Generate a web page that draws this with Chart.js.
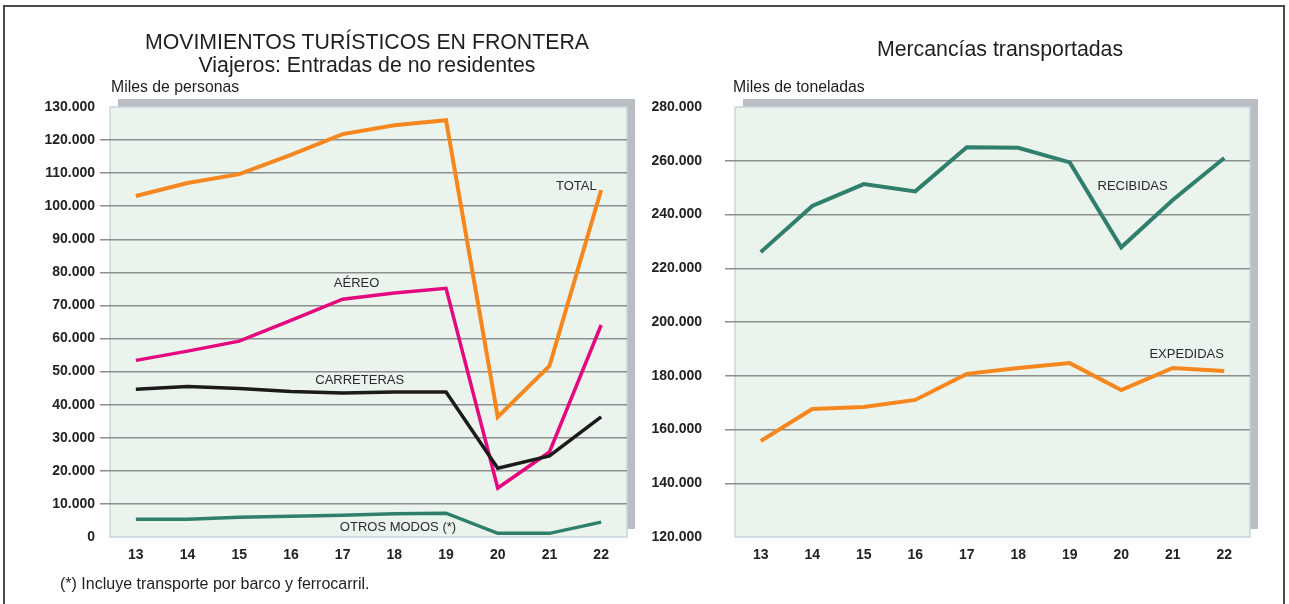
<!DOCTYPE html>
<html>
<head>
<meta charset="utf-8">
<script src="https://cdn.jsdelivr.net/npm/chart.js@4.4.1/dist/chart.umd.min.js"></script>
<style>
  html, body { margin: 0; padding: 0; background: #ffffff; }
  body { width: 1289px; height: 604px; position: relative; overflow: hidden; font-family: "Liberation Sans", Arial, sans-serif; color: #1e1e1e; }
  #frame { position: absolute; left: 3px; top: 5px; width: 1282px; height: 620px; border: 2px solid #4a4a4a; box-sizing: border-box; }
  .t { position: absolute; white-space: nowrap; }
  #c1 { position: absolute; left: 0; top: 0; }
  #c2 { position: absolute; left: 645px; top: 0; }
</style>
</head>
<body>
<div id="frame"></div>
<canvas id="c1" width="645" height="604"></canvas>
<canvas id="c2" width="644" height="604"></canvas>
<div class="t" style="left:0;width:734px;top:30px;text-align:center;font-size:21.3px;line-height:24px;">MOVIMIENTOS TURÍSTICOS EN FRONTERA</div>
<div class="t" style="left:0;width:734px;top:53px;text-align:center;font-size:21.3px;line-height:24px;">Viajeros: Entradas de no residentes</div>
<div class="t" style="left:111px;top:78px;font-size:15.8px;line-height:18px;">Miles de personas</div>
<div class="t" style="left:700px;width:600px;top:37px;text-align:center;font-size:21.3px;line-height:24px;">Mercancías transportadas</div>
<div class="t" style="left:733px;top:78px;font-size:15.8px;line-height:18px;">Miles de toneladas</div>
<div class="t" style="left:60px;top:575px;font-size:16px;line-height:18px;">(*) Incluye transporte por barco y ferrocarril.</div>
<script>
// ---- Data ----
const years = ["13", "14", "15", "16", "17", "18", "19", "20", "21", "22"];
const total      = [103100, 107000, 109700, 115500, 121800, 124500, 126000, 36300, 51700, 104900];
const aereo      = [53400, 56200, 59200, 65500, 71900, 73800, 75200, 14800, 25700, 64100];
const carreteras = [44700, 45500, 44900, 44000, 43500, 43800, 43800, 20800, 24500, 36300];
const otros      = [5400, 5400, 6000, 6300, 6600, 7000, 7200, 1100, 1100, 4500];
const recibidas  = [226000, 243200, 251300, 248600, 265000, 264800, 259400, 227800, 245400, 261000];
const expedidas  = [155700, 167600, 168400, 171000, 180700, 182900, 184700, 174700, 182900, 181800];
const leftTicks  = [0, 10000, 20000, 30000, 40000, 50000, 60000, 70000, 80000, 90000, 100000, 110000, 120000, 130000];
const rightTicks = [120000, 140000, 160000, 180000, 200000, 220000, 240000, 260000, 280000];
// series labels: [text, category position, value]
const leftLabels  = [["TOTAL", 8.52, 105900], ["AÉREO", 4.27, 76600], ["CARRETERAS", 4.33, 47300], ["OTROS MODOS (*)", 5.07, 3000]];
const rightLabels = [["RECIBIDAS", 7.22, 250300], ["EXPEDIDAS", 8.27, 187800]];

const ORANGE = "#f6871f", MAGENTA = "#e5097f", BLACK = "#1b1b1b", GREEN = "#2f7f6c";
const tickFont = { family: "'Liberation Sans', Arial, sans-serif", size: 14, weight: "bold" };

const fmt = v => String(v).replace(/\B(?=(\d{3})+(?!\d))/g, ".");

const panelPlugin = {
  id: "panel",
  beforeDraw(chart) {
    const { ctx, chartArea: a } = chart;
    ctx.save();
    ctx.fillStyle = "#babdc1";
    ctx.fillRect(a.left + 8, a.top - 8, a.right - a.left, a.bottom - a.top);
    ctx.fillStyle = "#eaf4ec";
    ctx.fillRect(a.left, a.top, a.right - a.left, a.bottom - a.top);
    ctx.strokeStyle = "#c6d6de";
    ctx.lineWidth = 1.5;
    ctx.strokeRect(a.left, a.top, a.right - a.left, a.bottom - a.top);
    ctx.restore();
  },
  afterDatasetsDraw(chart, args, opts) {
    const { ctx } = chart;
    const xs = chart.scales.x, ys = chart.scales.y;
    ctx.save();
    ctx.font = "13px 'Liberation Sans', Arial, sans-serif";
    ctx.fillStyle = "#2a2a2a";
    ctx.textAlign = "center";
    ctx.textBaseline = "middle";
    (opts.labels || []).forEach(([t, xi, v]) => {
      ctx.fillText(t, xs.getPixelForValue(xi), ys.getPixelForValue(v));
    });
    ctx.restore();
  }
};

function makeChart(id, series, yMin, yMax, ticks, yWidth, tickPad, padRight, labels) {
  return new Chart(document.getElementById(id), {
    type: "line",
    data: {
      labels: years,
      datasets: series.map(([d, c, w]) => ({
        data: d, borderColor: c, borderWidth: w, pointRadius: 0, tension: 0,
        borderCapStyle: "butt", borderJoinStyle: "miter", fill: false
      }))
    },
    options: {
      responsive: false,
      animation: false,
      layout: { padding: { left: 0, right: padRight, top: 107, bottom: 0 } },
      plugins: { legend: { display: false }, tooltip: { enabled: false }, title: { display: false }, panel: { labels } },
      scales: {
        x: {
          offset: true,
          grid: { display: false, drawTicks: false },
          border: { display: false },
          ticks: { color: "#222", font: tickFont, padding: 10 },
          afterFit(s) { s.height = 67; }
        },
        y: {
          min: yMin, max: yMax,
          afterBuildTicks(s) { s.ticks = ticks.map(v => ({ value: v })); },
          afterFit(s) { s.width = yWidth; },
          grid: {
            color: c => (c.tick && (c.tick.value === yMin || c.tick.value === yMax)) ? "rgba(0,0,0,0)" : "#8c8f8e",
            lineWidth: 1.5, tickLength: 10, drawOnChartArea: true
          },
          border: { display: false },
          ticks: { color: "#222", font: tickFont, padding: tickPad, callback: v => fmt(v) }
        }
      }
    },
    plugins: [panelPlugin]
  });
}

makeChart("c1", [[otros, GREEN, 3.5], [carreteras, BLACK, 3.5], [aereo, MAGENTA, 3.5], [total, ORANGE, 4]],
  0, 130000, leftTicks, 110, 5, 18, leftLabels);
makeChart("c2", [[expedidas, ORANGE, 4], [recibidas, GREEN, 4]],
  120000, 280000, rightTicks, 90, 23, 39, rightLabels);
</script>
</body>
</html>
